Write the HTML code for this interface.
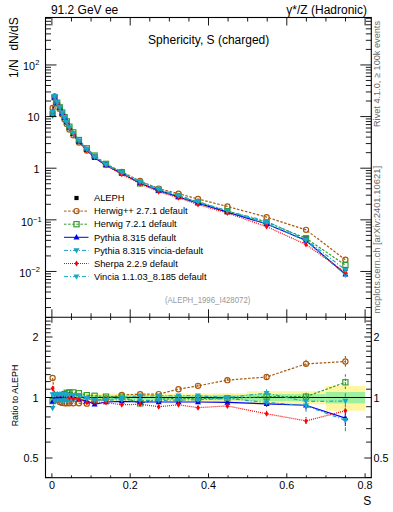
<!DOCTYPE html><html><head><meta charset="utf-8"><style>html,body{margin:0;padding:0;background:#fff;width:393px;height:512px;overflow:hidden}svg{display:block}text{font-family:"Liberation Sans", sans-serif}</style></head><body>
<svg width="393" height="512" viewBox="0 0 393 512">
<rect width="393" height="512" fill="#fff"/>
<rect x="51.90" y="393.66" width="1.70" height="7.86" fill="#fff59d"/>
<rect x="53.60" y="393.66" width="2.30" height="7.86" fill="#fff59d"/>
<rect x="55.90" y="393.66" width="2.60" height="7.86" fill="#fff59d"/>
<rect x="58.50" y="393.66" width="2.50" height="7.86" fill="#fff59d"/>
<rect x="61.00" y="393.66" width="2.40" height="7.86" fill="#fff59d"/>
<rect x="63.40" y="393.66" width="2.30" height="7.86" fill="#fff59d"/>
<rect x="65.70" y="393.66" width="2.40" height="7.86" fill="#fff59d"/>
<rect x="68.10" y="393.66" width="3.25" height="7.86" fill="#fff59d"/>
<rect x="71.35" y="393.66" width="4.75" height="7.86" fill="#fff59d"/>
<rect x="76.10" y="393.66" width="6.75" height="7.86" fill="#fff59d"/>
<rect x="82.85" y="393.66" width="7.85" height="7.86" fill="#fff59d"/>
<rect x="90.70" y="393.66" width="9.60" height="7.86" fill="#fff59d"/>
<rect x="100.30" y="393.66" width="13.60" height="7.86" fill="#fff59d"/>
<rect x="113.90" y="393.66" width="17.05" height="7.86" fill="#fff59d"/>
<rect x="130.95" y="393.66" width="18.45" height="7.86" fill="#fff59d"/>
<rect x="149.40" y="393.66" width="19.20" height="7.86" fill="#fff59d"/>
<rect x="168.60" y="393.66" width="19.65" height="7.86" fill="#fff59d"/>
<rect x="188.25" y="393.66" width="24.45" height="7.86" fill="#fff59d"/>
<rect x="212.70" y="393.24" width="34.30" height="8.74" fill="#fff59d"/>
<rect x="247.00" y="391.19" width="39.30" height="13.12" fill="#fff59d"/>
<rect x="286.30" y="391.19" width="39.40" height="13.12" fill="#fff59d"/>
<rect x="325.70" y="386.06" width="39.40" height="24.60" fill="#fff59d"/>
<rect x="51.90" y="395.34" width="1.70" height="4.37" fill="#9ef09e"/>
<rect x="53.60" y="395.34" width="2.30" height="4.37" fill="#9ef09e"/>
<rect x="55.90" y="395.34" width="2.60" height="4.37" fill="#9ef09e"/>
<rect x="58.50" y="395.34" width="2.50" height="4.37" fill="#9ef09e"/>
<rect x="61.00" y="395.34" width="2.40" height="4.37" fill="#9ef09e"/>
<rect x="63.40" y="395.34" width="2.30" height="4.37" fill="#9ef09e"/>
<rect x="65.70" y="395.34" width="2.40" height="4.37" fill="#9ef09e"/>
<rect x="68.10" y="395.34" width="3.25" height="4.37" fill="#9ef09e"/>
<rect x="71.35" y="395.34" width="4.75" height="4.37" fill="#9ef09e"/>
<rect x="76.10" y="395.34" width="6.75" height="4.37" fill="#9ef09e"/>
<rect x="82.85" y="395.34" width="7.85" height="4.37" fill="#9ef09e"/>
<rect x="90.70" y="395.34" width="9.60" height="4.37" fill="#9ef09e"/>
<rect x="100.30" y="395.34" width="13.60" height="4.37" fill="#9ef09e"/>
<rect x="113.90" y="395.34" width="17.05" height="4.37" fill="#9ef09e"/>
<rect x="130.95" y="395.34" width="18.45" height="4.37" fill="#9ef09e"/>
<rect x="149.40" y="395.34" width="19.20" height="4.37" fill="#9ef09e"/>
<rect x="168.60" y="395.34" width="19.65" height="4.37" fill="#9ef09e"/>
<rect x="188.25" y="395.34" width="24.45" height="4.37" fill="#9ef09e"/>
<rect x="212.70" y="394.92" width="34.30" height="5.24" fill="#9ef09e"/>
<rect x="247.00" y="394.08" width="39.30" height="6.99" fill="#9ef09e"/>
<rect x="286.30" y="394.08" width="39.40" height="6.99" fill="#9ef09e"/>
<rect x="325.70" y="392.00" width="39.40" height="11.36" fill="#9ef09e"/>
<line x1="45.5" y1="397.50" x2="371.3" y2="397.50" stroke="#000" stroke-width="1.1"/>
<defs><clipPath id="cu"><rect x="45.5" y="17.5" width="325.8" height="299.8"/></clipPath><clipPath id="cr"><rect x="45.5" y="317.3" width="325.8" height="160.39999999999998"/></clipPath></defs>
<g clip-path="url(#cu)">
<rect x="50.50" y="110.90" width="4.2" height="4.2" fill="#000"/>
<rect x="52.50" y="94.90" width="4.2" height="4.2" fill="#000"/>
<rect x="55.10" y="100.70" width="4.2" height="4.2" fill="#000"/>
<rect x="57.70" y="105.70" width="4.2" height="4.2" fill="#000"/>
<rect x="60.10" y="111.10" width="4.2" height="4.2" fill="#000"/>
<rect x="62.50" y="115.90" width="4.2" height="4.2" fill="#000"/>
<rect x="64.70" y="120.50" width="4.2" height="4.2" fill="#000"/>
<rect x="67.30" y="125.90" width="4.2" height="4.2" fill="#000"/>
<rect x="71.20" y="131.60" width="4.2" height="4.2" fill="#000"/>
<rect x="76.80" y="139.00" width="4.2" height="4.2" fill="#000"/>
<rect x="84.70" y="146.80" width="4.2" height="4.2" fill="#000"/>
<rect x="92.50" y="153.90" width="4.2" height="4.2" fill="#000"/>
<rect x="103.90" y="162.00" width="4.2" height="4.2" fill="#000"/>
<rect x="119.70" y="170.40" width="4.2" height="4.2" fill="#000"/>
<rect x="138.00" y="179.80" width="4.2" height="4.2" fill="#000"/>
<rect x="156.60" y="187.40" width="4.2" height="4.2" fill="#000"/>
<rect x="176.40" y="193.70" width="4.2" height="4.2" fill="#000"/>
<rect x="195.90" y="199.90" width="4.2" height="4.2" fill="#000"/>
<rect x="225.30" y="208.80" width="4.2" height="4.2" fill="#000"/>
<rect x="264.50" y="220.30" width="4.2" height="4.2" fill="#000"/>
<rect x="303.90" y="236.40" width="4.2" height="4.2" fill="#000"/>
<rect x="343.30" y="266.90" width="4.2" height="4.2" fill="#000"/>
<path d="M52.60,108.00 L54.60,96.56 L57.20,103.48 L59.80,108.95 L62.20,114.59 L64.60,119.51 L66.80,124.11 L69.40,129.51 L73.30,135.21 L78.90,142.56 L86.80,150.48 L94.60,156.92 L106.00,164.33 L121.80,171.84 L140.10,181.06 L158.70,188.62 L178.50,193.66 L198.00,199.00 L227.40,206.44 L266.60,217.13 L306.00,229.86 L345.40,259.76" fill="none" stroke="#a8580f" stroke-width="1.2" stroke-dasharray="2.5,1.6"/>
<circle cx="52.60" cy="108.00" r="2.6" fill="none" stroke="#a8580f" stroke-width="1.2"/>
<circle cx="54.60" cy="96.56" r="2.6" fill="none" stroke="#a8580f" stroke-width="1.2"/>
<circle cx="57.20" cy="103.48" r="2.6" fill="none" stroke="#a8580f" stroke-width="1.2"/>
<circle cx="59.80" cy="108.95" r="2.6" fill="none" stroke="#a8580f" stroke-width="1.2"/>
<circle cx="62.20" cy="114.59" r="2.6" fill="none" stroke="#a8580f" stroke-width="1.2"/>
<circle cx="64.60" cy="119.51" r="2.6" fill="none" stroke="#a8580f" stroke-width="1.2"/>
<circle cx="66.80" cy="124.11" r="2.6" fill="none" stroke="#a8580f" stroke-width="1.2"/>
<circle cx="69.40" cy="129.51" r="2.6" fill="none" stroke="#a8580f" stroke-width="1.2"/>
<circle cx="73.30" cy="135.21" r="2.6" fill="none" stroke="#a8580f" stroke-width="1.2"/>
<circle cx="78.90" cy="142.56" r="2.6" fill="none" stroke="#a8580f" stroke-width="1.2"/>
<circle cx="86.80" cy="150.48" r="2.6" fill="none" stroke="#a8580f" stroke-width="1.2"/>
<circle cx="94.60" cy="156.92" r="2.6" fill="none" stroke="#a8580f" stroke-width="1.2"/>
<circle cx="106.00" cy="164.33" r="2.6" fill="none" stroke="#a8580f" stroke-width="1.2"/>
<circle cx="121.80" cy="171.84" r="2.6" fill="none" stroke="#a8580f" stroke-width="1.2"/>
<circle cx="140.10" cy="181.06" r="2.6" fill="none" stroke="#a8580f" stroke-width="1.2"/>
<circle cx="158.70" cy="188.62" r="2.6" fill="none" stroke="#a8580f" stroke-width="1.2"/>
<circle cx="178.50" cy="193.66" r="2.6" fill="none" stroke="#a8580f" stroke-width="1.2"/>
<circle cx="198.00" cy="199.00" r="2.6" fill="none" stroke="#a8580f" stroke-width="1.2"/>
<circle cx="227.40" cy="206.44" r="2.6" fill="none" stroke="#a8580f" stroke-width="1.2"/>
<circle cx="266.60" cy="217.13" r="2.6" fill="none" stroke="#a8580f" stroke-width="1.2"/>
<circle cx="306.00" cy="229.86" r="2.6" fill="none" stroke="#a8580f" stroke-width="1.2"/>
<circle cx="345.40" cy="259.76" r="2.6" fill="none" stroke="#a8580f" stroke-width="1.2"/>
<path d="M52.60,113.92 L54.60,97.23 L57.20,102.80 L59.80,107.36 L62.20,112.54 L64.60,117.12 L66.80,121.40 L69.40,126.69 L73.30,132.39 L78.90,140.01 L86.80,148.30 L94.60,155.56 L106.00,163.88 L121.80,172.28 L140.10,183.41 L158.70,189.95 L178.50,196.03 L198.00,202.23 L227.40,211.13 L266.60,222.18 L306.00,238.28 L345.40,265.10" fill="none" stroke="#339a2a" stroke-width="1.2" stroke-dasharray="2.5,1.6"/>
<rect x="50.00" y="111.32" width="5.2" height="5.2" fill="none" stroke="#339a2a" stroke-width="1.15"/>
<rect x="52.00" y="94.63" width="5.2" height="5.2" fill="none" stroke="#339a2a" stroke-width="1.15"/>
<rect x="54.60" y="100.20" width="5.2" height="5.2" fill="none" stroke="#339a2a" stroke-width="1.15"/>
<rect x="57.20" y="104.76" width="5.2" height="5.2" fill="none" stroke="#339a2a" stroke-width="1.15"/>
<rect x="59.60" y="109.94" width="5.2" height="5.2" fill="none" stroke="#339a2a" stroke-width="1.15"/>
<rect x="62.00" y="114.52" width="5.2" height="5.2" fill="none" stroke="#339a2a" stroke-width="1.15"/>
<rect x="64.20" y="118.80" width="5.2" height="5.2" fill="none" stroke="#339a2a" stroke-width="1.15"/>
<rect x="66.80" y="124.09" width="5.2" height="5.2" fill="none" stroke="#339a2a" stroke-width="1.15"/>
<rect x="70.70" y="129.79" width="5.2" height="5.2" fill="none" stroke="#339a2a" stroke-width="1.15"/>
<rect x="76.30" y="137.41" width="5.2" height="5.2" fill="none" stroke="#339a2a" stroke-width="1.15"/>
<rect x="84.20" y="145.70" width="5.2" height="5.2" fill="none" stroke="#339a2a" stroke-width="1.15"/>
<rect x="92.00" y="152.96" width="5.2" height="5.2" fill="none" stroke="#339a2a" stroke-width="1.15"/>
<rect x="103.40" y="161.28" width="5.2" height="5.2" fill="none" stroke="#339a2a" stroke-width="1.15"/>
<rect x="119.20" y="169.68" width="5.2" height="5.2" fill="none" stroke="#339a2a" stroke-width="1.15"/>
<rect x="137.50" y="180.81" width="5.2" height="5.2" fill="none" stroke="#339a2a" stroke-width="1.15"/>
<rect x="156.10" y="187.35" width="5.2" height="5.2" fill="none" stroke="#339a2a" stroke-width="1.15"/>
<rect x="175.90" y="193.43" width="5.2" height="5.2" fill="none" stroke="#339a2a" stroke-width="1.15"/>
<rect x="195.40" y="199.63" width="5.2" height="5.2" fill="none" stroke="#339a2a" stroke-width="1.15"/>
<rect x="224.80" y="208.53" width="5.2" height="5.2" fill="none" stroke="#339a2a" stroke-width="1.15"/>
<rect x="264.00" y="219.58" width="5.2" height="5.2" fill="none" stroke="#339a2a" stroke-width="1.15"/>
<rect x="303.40" y="235.68" width="5.2" height="5.2" fill="none" stroke="#339a2a" stroke-width="1.15"/>
<rect x="342.80" y="262.50" width="5.2" height="5.2" fill="none" stroke="#339a2a" stroke-width="1.15"/>
<path d="M52.60,113.99 L54.60,97.45 L57.20,103.03 L59.80,107.80 L62.20,113.20 L64.60,117.78 L66.80,122.16 L69.40,127.34 L73.30,133.70 L78.90,141.55 L86.80,149.82 L94.60,157.77 L106.00,165.25 L121.80,173.49 L140.10,183.05 L158.70,190.65 L178.50,196.95 L198.00,203.15 L227.40,212.17 L266.60,224.03 L306.00,240.49 L345.40,274.29" fill="none" stroke="#0000ee" stroke-width="1.2"/>
<path d="M52.60,110.79 L55.60,116.19 L49.60,116.19Z" fill="#0000ee"/>
<path d="M54.60,94.25 L57.60,99.65 L51.60,99.65Z" fill="#0000ee"/>
<path d="M57.20,99.83 L60.20,105.23 L54.20,105.23Z" fill="#0000ee"/>
<path d="M59.80,104.60 L62.80,110.00 L56.80,110.00Z" fill="#0000ee"/>
<path d="M62.20,110.00 L65.20,115.40 L59.20,115.40Z" fill="#0000ee"/>
<path d="M64.60,114.58 L67.60,119.98 L61.60,119.98Z" fill="#0000ee"/>
<path d="M66.80,118.96 L69.80,124.36 L63.80,124.36Z" fill="#0000ee"/>
<path d="M69.40,124.14 L72.40,129.54 L66.40,129.54Z" fill="#0000ee"/>
<path d="M73.30,130.50 L76.30,135.90 L70.30,135.90Z" fill="#0000ee"/>
<path d="M78.90,138.35 L81.90,143.75 L75.90,143.75Z" fill="#0000ee"/>
<path d="M86.80,146.62 L89.80,152.02 L83.80,152.02Z" fill="#0000ee"/>
<path d="M94.60,154.57 L97.60,159.97 L91.60,159.97Z" fill="#0000ee"/>
<path d="M106.00,162.05 L109.00,167.45 L103.00,167.45Z" fill="#0000ee"/>
<path d="M121.80,170.29 L124.80,175.69 L118.80,175.69Z" fill="#0000ee"/>
<path d="M140.10,179.85 L143.10,185.25 L137.10,185.25Z" fill="#0000ee"/>
<path d="M158.70,187.45 L161.70,192.85 L155.70,192.85Z" fill="#0000ee"/>
<path d="M178.50,193.75 L181.50,199.15 L175.50,199.15Z" fill="#0000ee"/>
<path d="M198.00,199.95 L201.00,205.35 L195.00,205.35Z" fill="#0000ee"/>
<path d="M227.40,208.97 L230.40,214.37 L224.40,214.37Z" fill="#0000ee"/>
<path d="M266.60,220.83 L269.60,226.23 L263.60,226.23Z" fill="#0000ee"/>
<path d="M306.00,237.29 L309.00,242.69 L303.00,242.69Z" fill="#0000ee"/>
<path d="M345.40,271.09 L348.40,276.49 L342.40,276.49Z" fill="#0000ee"/>
<path d="M52.60,115.74 L54.60,97.92 L57.20,103.60 L59.80,108.60 L62.20,114.00 L64.60,118.68 L66.80,123.28 L69.40,128.68 L73.30,134.38 L78.90,141.55 L86.80,149.13 L94.60,156.68 L106.00,164.78 L121.80,173.07 L140.10,182.63 L158.70,190.23 L178.50,196.48 L198.00,202.57 L227.40,211.13 L266.60,223.67 L306.00,240.61 L345.40,274.86" fill="none" stroke="#1a9fc0" stroke-width="1.2" stroke-dasharray="4,2,1,2"/>
<path d="M52.60,118.94 L55.60,113.54 L49.60,113.54Z" fill="#1a9fc0"/>
<path d="M54.60,101.12 L57.60,95.72 L51.60,95.72Z" fill="#1a9fc0"/>
<path d="M57.20,106.80 L60.20,101.40 L54.20,101.40Z" fill="#1a9fc0"/>
<path d="M59.80,111.80 L62.80,106.40 L56.80,106.40Z" fill="#1a9fc0"/>
<path d="M62.20,117.20 L65.20,111.80 L59.20,111.80Z" fill="#1a9fc0"/>
<path d="M64.60,121.88 L67.60,116.48 L61.60,116.48Z" fill="#1a9fc0"/>
<path d="M66.80,126.48 L69.80,121.08 L63.80,121.08Z" fill="#1a9fc0"/>
<path d="M69.40,131.88 L72.40,126.48 L66.40,126.48Z" fill="#1a9fc0"/>
<path d="M73.30,137.58 L76.30,132.18 L70.30,132.18Z" fill="#1a9fc0"/>
<path d="M78.90,144.75 L81.90,139.35 L75.90,139.35Z" fill="#1a9fc0"/>
<path d="M86.80,152.33 L89.80,146.93 L83.80,146.93Z" fill="#1a9fc0"/>
<path d="M94.60,159.88 L97.60,154.48 L91.60,154.48Z" fill="#1a9fc0"/>
<path d="M106.00,167.98 L109.00,162.58 L103.00,162.58Z" fill="#1a9fc0"/>
<path d="M121.80,176.27 L124.80,170.87 L118.80,170.87Z" fill="#1a9fc0"/>
<path d="M140.10,185.83 L143.10,180.43 L137.10,180.43Z" fill="#1a9fc0"/>
<path d="M158.70,193.43 L161.70,188.03 L155.70,188.03Z" fill="#1a9fc0"/>
<path d="M178.50,199.68 L181.50,194.28 L175.50,194.28Z" fill="#1a9fc0"/>
<path d="M198.00,205.77 L201.00,200.37 L195.00,200.37Z" fill="#1a9fc0"/>
<path d="M227.40,214.33 L230.40,208.93 L224.40,208.93Z" fill="#1a9fc0"/>
<path d="M266.60,226.87 L269.60,221.47 L263.60,221.47Z" fill="#1a9fc0"/>
<path d="M306.00,243.81 L309.00,238.41 L303.00,238.41Z" fill="#1a9fc0"/>
<path d="M345.40,278.06 L348.40,272.66 L342.40,272.66Z" fill="#1a9fc0"/>
<path d="M52.60,110.66 L54.60,96.01 L57.20,101.92 L59.80,107.03 L62.20,112.43 L64.60,117.34 L66.80,122.16 L69.40,128.00 L73.30,133.93 L78.90,141.48 L86.80,150.19 L94.60,157.15 L106.00,165.39 L121.80,174.37 L140.10,183.65 L158.70,191.86 L178.50,197.67 L198.00,204.61 L227.40,213.06 L266.60,226.58 L306.00,244.51 L345.40,272.38" fill="none" stroke="#ff0000" stroke-width="1.2" stroke-dasharray="1,1"/>
<path d="M52.60,107.66 L54.50,110.66 L52.60,113.66 L50.70,110.66Z" fill="#ff0000"/>
<path d="M54.60,93.01 L56.50,96.01 L54.60,99.01 L52.70,96.01Z" fill="#ff0000"/>
<path d="M57.20,98.92 L59.10,101.92 L57.20,104.92 L55.30,101.92Z" fill="#ff0000"/>
<path d="M59.80,104.03 L61.70,107.03 L59.80,110.03 L57.90,107.03Z" fill="#ff0000"/>
<path d="M62.20,109.43 L64.10,112.43 L62.20,115.43 L60.30,112.43Z" fill="#ff0000"/>
<path d="M64.60,114.34 L66.50,117.34 L64.60,120.34 L62.70,117.34Z" fill="#ff0000"/>
<path d="M66.80,119.16 L68.70,122.16 L66.80,125.16 L64.90,122.16Z" fill="#ff0000"/>
<path d="M69.40,125.00 L71.30,128.00 L69.40,131.00 L67.50,128.00Z" fill="#ff0000"/>
<path d="M73.30,130.93 L75.20,133.93 L73.30,136.93 L71.40,133.93Z" fill="#ff0000"/>
<path d="M78.90,138.48 L80.80,141.48 L78.90,144.48 L77.00,141.48Z" fill="#ff0000"/>
<path d="M86.80,147.19 L88.70,150.19 L86.80,153.19 L84.90,150.19Z" fill="#ff0000"/>
<path d="M94.60,154.15 L96.50,157.15 L94.60,160.15 L92.70,157.15Z" fill="#ff0000"/>
<path d="M106.00,162.39 L107.90,165.39 L106.00,168.39 L104.10,165.39Z" fill="#ff0000"/>
<path d="M121.80,171.37 L123.70,174.37 L121.80,177.37 L119.90,174.37Z" fill="#ff0000"/>
<path d="M140.10,180.65 L142.00,183.65 L140.10,186.65 L138.20,183.65Z" fill="#ff0000"/>
<path d="M158.70,188.86 L160.60,191.86 L158.70,194.86 L156.80,191.86Z" fill="#ff0000"/>
<path d="M178.50,194.67 L180.40,197.67 L178.50,200.67 L176.60,197.67Z" fill="#ff0000"/>
<path d="M198.00,201.61 L199.90,204.61 L198.00,207.61 L196.10,204.61Z" fill="#ff0000"/>
<path d="M227.40,210.06 L229.30,213.06 L227.40,216.06 L225.50,213.06Z" fill="#ff0000"/>
<path d="M266.60,223.58 L268.50,226.58 L266.60,229.58 L264.70,226.58Z" fill="#ff0000"/>
<path d="M306.00,241.51 L307.90,244.51 L306.00,247.51 L304.10,244.51Z" fill="#ff0000"/>
<path d="M345.40,269.38 L347.30,272.38 L345.40,275.38 L343.50,272.38Z" fill="#ff0000"/>
<path d="M52.60,112.23 L54.60,96.12 L57.20,101.92 L59.80,106.92 L62.20,112.43 L64.60,117.23 L66.80,121.94 L69.40,127.34 L73.30,133.10 L78.90,140.50 L86.80,149.13 L94.60,156.68 L106.00,164.69 L121.80,172.50 L140.10,181.46 L158.70,189.06 L178.50,195.36 L198.00,201.56 L227.40,210.90 L266.60,221.31 L306.00,239.53 L345.40,269.92" fill="none" stroke="#1aa8c8" stroke-width="1.2" stroke-dasharray="4,2,1,2"/>
<path d="M52.60,115.43 L55.60,110.03 L49.60,110.03Z" fill="#1aa8c8"/>
<path d="M54.60,99.32 L57.60,93.92 L51.60,93.92Z" fill="#1aa8c8"/>
<path d="M57.20,105.12 L60.20,99.72 L54.20,99.72Z" fill="#1aa8c8"/>
<path d="M59.80,110.12 L62.80,104.72 L56.80,104.72Z" fill="#1aa8c8"/>
<path d="M62.20,115.63 L65.20,110.23 L59.20,110.23Z" fill="#1aa8c8"/>
<path d="M64.60,120.43 L67.60,115.03 L61.60,115.03Z" fill="#1aa8c8"/>
<path d="M66.80,125.14 L69.80,119.74 L63.80,119.74Z" fill="#1aa8c8"/>
<path d="M69.40,130.54 L72.40,125.14 L66.40,125.14Z" fill="#1aa8c8"/>
<path d="M73.30,136.30 L76.30,130.90 L70.30,130.90Z" fill="#1aa8c8"/>
<path d="M78.90,143.70 L81.90,138.30 L75.90,138.30Z" fill="#1aa8c8"/>
<path d="M86.80,152.33 L89.80,146.93 L83.80,146.93Z" fill="#1aa8c8"/>
<path d="M94.60,159.88 L97.60,154.48 L91.60,154.48Z" fill="#1aa8c8"/>
<path d="M106.00,167.89 L109.00,162.49 L103.00,162.49Z" fill="#1aa8c8"/>
<path d="M121.80,175.70 L124.80,170.30 L118.80,170.30Z" fill="#1aa8c8"/>
<path d="M140.10,184.66 L143.10,179.26 L137.10,179.26Z" fill="#1aa8c8"/>
<path d="M158.70,192.26 L161.70,186.86 L155.70,186.86Z" fill="#1aa8c8"/>
<path d="M178.50,198.56 L181.50,193.16 L175.50,193.16Z" fill="#1aa8c8"/>
<path d="M198.00,204.76 L201.00,199.36 L195.00,199.36Z" fill="#1aa8c8"/>
<path d="M227.40,214.10 L230.40,208.70 L224.40,208.70Z" fill="#1aa8c8"/>
<path d="M266.60,224.51 L269.60,219.11 L263.60,219.11Z" fill="#1aa8c8"/>
<path d="M306.00,242.73 L309.00,237.33 L303.00,237.33Z" fill="#1aa8c8"/>
<path d="M345.40,273.12 L348.40,267.72 L342.40,267.72Z" fill="#1aa8c8"/>
</g>
<g clip-path="url(#cr)">
<path d="M52.60,378.02 L54.60,395.77 L57.20,400.16 L59.80,401.98 L62.20,402.90 L64.60,403.37 L66.80,403.37 L69.40,403.37 L73.30,403.37 L78.90,403.18 L86.80,403.65 L94.60,401.06 L106.00,398.38 L121.80,394.92 L140.10,394.24 L158.70,394.08 L178.50,389.18 L198.00,385.83 L227.40,380.14 L266.60,376.98 L306.00,363.87 L345.40,361.53" fill="none" stroke="#a8580f" stroke-width="1.2" stroke-dasharray="2.5,1.6"/>
<circle cx="52.60" cy="378.02" r="2.6" fill="none" stroke="#a8580f" stroke-width="1.2"/>
<circle cx="54.60" cy="395.77" r="2.6" fill="none" stroke="#a8580f" stroke-width="1.2"/>
<circle cx="57.20" cy="400.16" r="2.6" fill="none" stroke="#a8580f" stroke-width="1.2"/>
<circle cx="59.80" cy="401.98" r="2.6" fill="none" stroke="#a8580f" stroke-width="1.2"/>
<circle cx="62.20" cy="402.90" r="2.6" fill="none" stroke="#a8580f" stroke-width="1.2"/>
<circle cx="64.60" cy="403.37" r="2.6" fill="none" stroke="#a8580f" stroke-width="1.2"/>
<circle cx="66.80" cy="403.37" r="2.6" fill="none" stroke="#a8580f" stroke-width="1.2"/>
<circle cx="69.40" cy="403.37" r="2.6" fill="none" stroke="#a8580f" stroke-width="1.2"/>
<circle cx="73.30" cy="403.37" r="2.6" fill="none" stroke="#a8580f" stroke-width="1.2"/>
<circle cx="78.90" cy="403.18" r="2.6" fill="none" stroke="#a8580f" stroke-width="1.2"/>
<circle cx="86.80" cy="403.65" r="2.6" fill="none" stroke="#a8580f" stroke-width="1.2"/>
<circle cx="94.60" cy="401.06" r="2.6" fill="none" stroke="#a8580f" stroke-width="1.2"/>
<circle cx="106.00" cy="398.38" r="2.6" fill="none" stroke="#a8580f" stroke-width="1.2"/>
<circle cx="121.80" cy="394.92" r="2.6" fill="none" stroke="#a8580f" stroke-width="1.2"/>
<circle cx="140.10" cy="394.24" r="2.6" fill="none" stroke="#a8580f" stroke-width="1.2"/>
<circle cx="158.70" cy="394.08" r="2.6" fill="none" stroke="#a8580f" stroke-width="1.2"/>
<circle cx="178.50" cy="389.18" r="2.6" fill="none" stroke="#a8580f" stroke-width="1.2"/>
<line x1="198.00" y1="384.33" x2="198.00" y2="387.33" stroke="#a8580f" stroke-width="1.1" stroke-dasharray="2.5,1.6"/>
<circle cx="198.00" cy="385.83" r="2.6" fill="none" stroke="#a8580f" stroke-width="1.2"/>
<line x1="227.40" y1="378.14" x2="227.40" y2="382.14" stroke="#a8580f" stroke-width="1.1" stroke-dasharray="2.5,1.6"/>
<circle cx="227.40" cy="380.14" r="2.6" fill="none" stroke="#a8580f" stroke-width="1.2"/>
<line x1="266.60" y1="373.98" x2="266.60" y2="379.98" stroke="#a8580f" stroke-width="1.1" stroke-dasharray="2.5,1.6"/>
<circle cx="266.60" cy="376.98" r="2.6" fill="none" stroke="#a8580f" stroke-width="1.2"/>
<line x1="306.00" y1="359.87" x2="306.00" y2="367.87" stroke="#a8580f" stroke-width="1.1" stroke-dasharray="2.5,1.6"/>
<circle cx="306.00" cy="363.87" r="2.6" fill="none" stroke="#a8580f" stroke-width="1.2"/>
<line x1="345.40" y1="356.03" x2="345.40" y2="367.03" stroke="#a8580f" stroke-width="1.1" stroke-dasharray="2.5,1.6"/>
<circle cx="345.40" cy="361.53" r="2.6" fill="none" stroke="#a8580f" stroke-width="1.2"/>
<path d="M52.60,401.06 L54.60,398.38 L57.20,397.50 L59.80,395.77 L62.20,394.92 L64.60,394.08 L66.80,392.83 L69.40,392.41 L73.30,392.41 L78.90,393.24 L86.80,395.17 L94.60,395.77 L106.00,396.63 L121.80,396.63 L140.10,403.37 L158.70,399.26 L178.50,398.38 L198.00,398.38 L227.40,398.38 L266.60,396.63 L306.00,396.63 L345.40,382.32" fill="none" stroke="#339a2a" stroke-width="1.2" stroke-dasharray="2.5,1.6"/>
<rect x="50.00" y="398.46" width="5.2" height="5.2" fill="none" stroke="#339a2a" stroke-width="1.15"/>
<rect x="52.00" y="395.78" width="5.2" height="5.2" fill="none" stroke="#339a2a" stroke-width="1.15"/>
<rect x="54.60" y="394.90" width="5.2" height="5.2" fill="none" stroke="#339a2a" stroke-width="1.15"/>
<rect x="57.20" y="393.17" width="5.2" height="5.2" fill="none" stroke="#339a2a" stroke-width="1.15"/>
<rect x="59.60" y="392.32" width="5.2" height="5.2" fill="none" stroke="#339a2a" stroke-width="1.15"/>
<rect x="62.00" y="391.48" width="5.2" height="5.2" fill="none" stroke="#339a2a" stroke-width="1.15"/>
<rect x="64.20" y="390.23" width="5.2" height="5.2" fill="none" stroke="#339a2a" stroke-width="1.15"/>
<rect x="66.80" y="389.81" width="5.2" height="5.2" fill="none" stroke="#339a2a" stroke-width="1.15"/>
<rect x="70.70" y="389.81" width="5.2" height="5.2" fill="none" stroke="#339a2a" stroke-width="1.15"/>
<rect x="76.30" y="390.64" width="5.2" height="5.2" fill="none" stroke="#339a2a" stroke-width="1.15"/>
<rect x="84.20" y="392.57" width="5.2" height="5.2" fill="none" stroke="#339a2a" stroke-width="1.15"/>
<rect x="92.00" y="393.17" width="5.2" height="5.2" fill="none" stroke="#339a2a" stroke-width="1.15"/>
<rect x="103.40" y="394.03" width="5.2" height="5.2" fill="none" stroke="#339a2a" stroke-width="1.15"/>
<rect x="119.20" y="394.03" width="5.2" height="5.2" fill="none" stroke="#339a2a" stroke-width="1.15"/>
<rect x="137.50" y="400.77" width="5.2" height="5.2" fill="none" stroke="#339a2a" stroke-width="1.15"/>
<rect x="156.10" y="396.66" width="5.2" height="5.2" fill="none" stroke="#339a2a" stroke-width="1.15"/>
<rect x="175.90" y="395.78" width="5.2" height="5.2" fill="none" stroke="#339a2a" stroke-width="1.15"/>
<line x1="198.00" y1="396.88" x2="198.00" y2="399.88" stroke="#339a2a" stroke-width="1.1" stroke-dasharray="2.5,1.6"/>
<rect x="195.40" y="395.78" width="5.2" height="5.2" fill="none" stroke="#339a2a" stroke-width="1.15"/>
<line x1="227.40" y1="396.38" x2="227.40" y2="400.38" stroke="#339a2a" stroke-width="1.1" stroke-dasharray="2.5,1.6"/>
<rect x="224.80" y="395.78" width="5.2" height="5.2" fill="none" stroke="#339a2a" stroke-width="1.15"/>
<line x1="266.60" y1="393.63" x2="266.60" y2="399.63" stroke="#339a2a" stroke-width="1.1" stroke-dasharray="2.5,1.6"/>
<rect x="264.00" y="394.03" width="5.2" height="5.2" fill="none" stroke="#339a2a" stroke-width="1.15"/>
<line x1="306.00" y1="392.63" x2="306.00" y2="400.63" stroke="#339a2a" stroke-width="1.1" stroke-dasharray="2.5,1.6"/>
<rect x="303.40" y="394.03" width="5.2" height="5.2" fill="none" stroke="#339a2a" stroke-width="1.15"/>
<line x1="345.40" y1="374.32" x2="345.40" y2="390.32" stroke="#339a2a" stroke-width="1.1" stroke-dasharray="2.5,1.6"/>
<rect x="342.80" y="379.72" width="5.2" height="5.2" fill="none" stroke="#339a2a" stroke-width="1.15"/>
<path d="M52.60,401.34 L54.60,399.26 L57.20,398.38 L59.80,397.50 L62.20,397.50 L64.60,396.63 L66.80,395.77 L69.40,394.92 L73.30,397.50 L78.90,399.26 L86.80,401.06 L94.60,404.40 L106.00,401.98 L121.80,401.34 L140.10,401.98 L158.70,401.98 L178.50,401.98 L198.00,401.98 L227.40,402.44 L266.60,403.83 L306.00,405.25 L345.40,418.07" fill="none" stroke="#0000ee" stroke-width="1.2"/>
<path d="M52.60,398.14 L55.60,403.54 L49.60,403.54Z" fill="#0000ee"/>
<path d="M54.60,396.06 L57.60,401.46 L51.60,401.46Z" fill="#0000ee"/>
<path d="M57.20,395.18 L60.20,400.58 L54.20,400.58Z" fill="#0000ee"/>
<path d="M59.80,394.30 L62.80,399.70 L56.80,399.70Z" fill="#0000ee"/>
<path d="M62.20,394.30 L65.20,399.70 L59.20,399.70Z" fill="#0000ee"/>
<path d="M64.60,393.43 L67.60,398.83 L61.60,398.83Z" fill="#0000ee"/>
<path d="M66.80,392.57 L69.80,397.97 L63.80,397.97Z" fill="#0000ee"/>
<path d="M69.40,391.72 L72.40,397.12 L66.40,397.12Z" fill="#0000ee"/>
<path d="M73.30,394.30 L76.30,399.70 L70.30,399.70Z" fill="#0000ee"/>
<path d="M78.90,396.06 L81.90,401.46 L75.90,401.46Z" fill="#0000ee"/>
<path d="M86.80,397.86 L89.80,403.26 L83.80,403.26Z" fill="#0000ee"/>
<path d="M94.60,401.20 L97.60,406.60 L91.60,406.60Z" fill="#0000ee"/>
<path d="M106.00,398.78 L109.00,404.18 L103.00,404.18Z" fill="#0000ee"/>
<path d="M121.80,398.14 L124.80,403.54 L118.80,403.54Z" fill="#0000ee"/>
<path d="M140.10,398.78 L143.10,404.18 L137.10,404.18Z" fill="#0000ee"/>
<path d="M158.70,398.78 L161.70,404.18 L155.70,404.18Z" fill="#0000ee"/>
<path d="M178.50,398.78 L181.50,404.18 L175.50,404.18Z" fill="#0000ee"/>
<line x1="198.00" y1="400.48" x2="198.00" y2="403.48" stroke="#0000ee" stroke-width="1.1"/>
<path d="M198.00,398.78 L201.00,404.18 L195.00,404.18Z" fill="#0000ee"/>
<line x1="227.40" y1="400.44" x2="227.40" y2="404.44" stroke="#0000ee" stroke-width="1.1"/>
<path d="M227.40,399.24 L230.40,404.64 L224.40,404.64Z" fill="#0000ee"/>
<line x1="266.60" y1="400.83" x2="266.60" y2="406.83" stroke="#0000ee" stroke-width="1.1"/>
<path d="M266.60,400.63 L269.60,406.03 L263.60,406.03Z" fill="#0000ee"/>
<line x1="306.00" y1="401.25" x2="306.00" y2="409.25" stroke="#0000ee" stroke-width="1.1"/>
<path d="M306.00,402.05 L309.00,407.45 L303.00,407.45Z" fill="#0000ee"/>
<line x1="345.40" y1="410.07" x2="345.40" y2="426.07" stroke="#0000ee" stroke-width="1.1"/>
<path d="M345.40,414.87 L348.40,420.27 L342.40,420.27Z" fill="#0000ee"/>
<path d="M52.60,408.16 L54.60,401.06 L57.20,400.61 L59.80,400.61 L62.20,400.61 L64.60,400.16 L66.80,400.16 L69.40,400.16 L73.30,400.16 L78.90,399.26 L86.80,398.38 L94.60,400.16 L106.00,400.16 L121.80,399.71 L140.10,400.34 L158.70,400.34 L178.50,400.16 L198.00,399.71 L227.40,398.38 L266.60,402.44 L306.00,405.73 L345.40,420.31" fill="none" stroke="#1a9fc0" stroke-width="1.2" stroke-dasharray="4,2,1,2"/>
<path d="M52.60,411.36 L55.60,405.96 L49.60,405.96Z" fill="#1a9fc0"/>
<path d="M54.60,404.26 L57.60,398.86 L51.60,398.86Z" fill="#1a9fc0"/>
<path d="M57.20,403.81 L60.20,398.41 L54.20,398.41Z" fill="#1a9fc0"/>
<path d="M59.80,403.81 L62.80,398.41 L56.80,398.41Z" fill="#1a9fc0"/>
<path d="M62.20,403.81 L65.20,398.41 L59.20,398.41Z" fill="#1a9fc0"/>
<path d="M64.60,403.36 L67.60,397.96 L61.60,397.96Z" fill="#1a9fc0"/>
<path d="M66.80,403.36 L69.80,397.96 L63.80,397.96Z" fill="#1a9fc0"/>
<path d="M69.40,403.36 L72.40,397.96 L66.40,397.96Z" fill="#1a9fc0"/>
<path d="M73.30,403.36 L76.30,397.96 L70.30,397.96Z" fill="#1a9fc0"/>
<path d="M78.90,402.46 L81.90,397.06 L75.90,397.06Z" fill="#1a9fc0"/>
<path d="M86.80,401.58 L89.80,396.18 L83.80,396.18Z" fill="#1a9fc0"/>
<path d="M94.60,403.36 L97.60,397.96 L91.60,397.96Z" fill="#1a9fc0"/>
<path d="M106.00,403.36 L109.00,397.96 L103.00,397.96Z" fill="#1a9fc0"/>
<path d="M121.80,402.91 L124.80,397.51 L118.80,397.51Z" fill="#1a9fc0"/>
<path d="M140.10,403.54 L143.10,398.14 L137.10,398.14Z" fill="#1a9fc0"/>
<path d="M158.70,403.54 L161.70,398.14 L155.70,398.14Z" fill="#1a9fc0"/>
<path d="M178.50,403.36 L181.50,397.96 L175.50,397.96Z" fill="#1a9fc0"/>
<line x1="198.00" y1="398.21" x2="198.00" y2="401.21" stroke="#1a9fc0" stroke-width="1.1" stroke-dasharray="4,2,1,2"/>
<path d="M198.00,402.91 L201.00,397.51 L195.00,397.51Z" fill="#1a9fc0"/>
<line x1="227.40" y1="396.38" x2="227.40" y2="400.38" stroke="#1a9fc0" stroke-width="1.1" stroke-dasharray="4,2,1,2"/>
<path d="M227.40,401.58 L230.40,396.18 L224.40,396.18Z" fill="#1a9fc0"/>
<line x1="266.60" y1="399.44" x2="266.60" y2="405.44" stroke="#1a9fc0" stroke-width="1.1" stroke-dasharray="4,2,1,2"/>
<path d="M266.60,405.64 L269.60,400.24 L263.60,400.24Z" fill="#1a9fc0"/>
<line x1="306.00" y1="399.73" x2="306.00" y2="411.73" stroke="#1a9fc0" stroke-width="1.1" stroke-dasharray="4,2,1,2"/>
<path d="M306.00,408.93 L309.00,403.53 L303.00,403.53Z" fill="#1a9fc0"/>
<line x1="345.40" y1="409.31" x2="345.40" y2="431.31" stroke="#1a9fc0" stroke-width="1.1" stroke-dasharray="4,2,1,2"/>
<path d="M345.40,423.51 L348.40,418.11 L342.40,418.11Z" fill="#1a9fc0"/>
<path d="M52.60,388.39 L54.60,393.66 L57.20,394.08 L59.80,394.50 L62.20,394.50 L64.60,394.92 L66.80,395.77 L69.40,397.50 L73.30,398.38 L78.90,399.00 L86.80,402.53 L94.60,401.98 L106.00,402.53 L121.80,404.78 L140.10,404.30 L158.70,406.70 L178.50,404.78 L198.00,407.67 L227.40,405.92 L266.60,413.76 L306.00,420.88 L345.40,410.66" fill="none" stroke="#ff0000" stroke-width="1.2" stroke-dasharray="1,1"/>
<path d="M52.60,385.39 L54.50,388.39 L52.60,391.39 L50.70,388.39Z" fill="#ff0000"/>
<path d="M54.60,390.66 L56.50,393.66 L54.60,396.66 L52.70,393.66Z" fill="#ff0000"/>
<path d="M57.20,391.08 L59.10,394.08 L57.20,397.08 L55.30,394.08Z" fill="#ff0000"/>
<path d="M59.80,391.50 L61.70,394.50 L59.80,397.50 L57.90,394.50Z" fill="#ff0000"/>
<path d="M62.20,391.50 L64.10,394.50 L62.20,397.50 L60.30,394.50Z" fill="#ff0000"/>
<path d="M64.60,391.92 L66.50,394.92 L64.60,397.92 L62.70,394.92Z" fill="#ff0000"/>
<path d="M66.80,392.77 L68.70,395.77 L66.80,398.77 L64.90,395.77Z" fill="#ff0000"/>
<path d="M69.40,394.50 L71.30,397.50 L69.40,400.50 L67.50,397.50Z" fill="#ff0000"/>
<path d="M73.30,395.38 L75.20,398.38 L73.30,401.38 L71.40,398.38Z" fill="#ff0000"/>
<path d="M78.90,396.00 L80.80,399.00 L78.90,402.00 L77.00,399.00Z" fill="#ff0000"/>
<path d="M86.80,399.53 L88.70,402.53 L86.80,405.53 L84.90,402.53Z" fill="#ff0000"/>
<path d="M94.60,398.98 L96.50,401.98 L94.60,404.98 L92.70,401.98Z" fill="#ff0000"/>
<path d="M106.00,399.53 L107.90,402.53 L106.00,405.53 L104.10,402.53Z" fill="#ff0000"/>
<path d="M121.80,401.78 L123.70,404.78 L121.80,407.78 L119.90,404.78Z" fill="#ff0000"/>
<path d="M140.10,401.30 L142.00,404.30 L140.10,407.30 L138.20,404.30Z" fill="#ff0000"/>
<path d="M158.70,403.70 L160.60,406.70 L158.70,409.70 L156.80,406.70Z" fill="#ff0000"/>
<path d="M178.50,401.78 L180.40,404.78 L178.50,407.78 L176.60,404.78Z" fill="#ff0000"/>
<line x1="198.00" y1="406.17" x2="198.00" y2="409.17" stroke="#ff0000" stroke-width="1.1" stroke-dasharray="1,1"/>
<path d="M198.00,404.67 L199.90,407.67 L198.00,410.67 L196.10,407.67Z" fill="#ff0000"/>
<line x1="227.40" y1="403.92" x2="227.40" y2="407.92" stroke="#ff0000" stroke-width="1.1" stroke-dasharray="1,1"/>
<path d="M227.40,402.92 L229.30,405.92 L227.40,408.92 L225.50,405.92Z" fill="#ff0000"/>
<line x1="266.60" y1="410.76" x2="266.60" y2="416.76" stroke="#ff0000" stroke-width="1.1" stroke-dasharray="1,1"/>
<path d="M266.60,410.76 L268.50,413.76 L266.60,416.76 L264.70,413.76Z" fill="#ff0000"/>
<line x1="306.00" y1="416.88" x2="306.00" y2="424.88" stroke="#ff0000" stroke-width="1.1" stroke-dasharray="1,1"/>
<path d="M306.00,417.88 L307.90,420.88 L306.00,423.88 L304.10,420.88Z" fill="#ff0000"/>
<line x1="345.40" y1="405.66" x2="345.40" y2="415.66" stroke="#ff0000" stroke-width="1.1" stroke-dasharray="1,1"/>
<path d="M345.40,407.66 L347.30,410.66 L345.40,413.66 L343.50,410.66Z" fill="#ff0000"/>
<path d="M52.60,394.50 L54.60,394.08 L57.20,394.08 L59.80,394.08 L62.20,394.50 L64.60,394.50 L66.80,394.92 L69.40,394.92 L73.30,395.17 L78.90,395.17 L86.80,398.38 L94.60,400.16 L106.00,399.80 L121.80,397.50 L140.10,395.77 L158.70,395.77 L178.50,395.77 L198.00,395.77 L227.40,397.50 L266.60,393.24 L306.00,401.52 L345.40,401.06" fill="none" stroke="#1aa8c8" stroke-width="1.2" stroke-dasharray="4,2,1,2"/>
<path d="M52.60,397.70 L55.60,392.30 L49.60,392.30Z" fill="#1aa8c8"/>
<path d="M54.60,397.28 L57.60,391.88 L51.60,391.88Z" fill="#1aa8c8"/>
<path d="M57.20,397.28 L60.20,391.88 L54.20,391.88Z" fill="#1aa8c8"/>
<path d="M59.80,397.28 L62.80,391.88 L56.80,391.88Z" fill="#1aa8c8"/>
<path d="M62.20,397.70 L65.20,392.30 L59.20,392.30Z" fill="#1aa8c8"/>
<path d="M64.60,397.70 L67.60,392.30 L61.60,392.30Z" fill="#1aa8c8"/>
<path d="M66.80,398.12 L69.80,392.72 L63.80,392.72Z" fill="#1aa8c8"/>
<path d="M69.40,398.12 L72.40,392.72 L66.40,392.72Z" fill="#1aa8c8"/>
<path d="M73.30,398.37 L76.30,392.97 L70.30,392.97Z" fill="#1aa8c8"/>
<path d="M78.90,398.37 L81.90,392.97 L75.90,392.97Z" fill="#1aa8c8"/>
<path d="M86.80,401.58 L89.80,396.18 L83.80,396.18Z" fill="#1aa8c8"/>
<path d="M94.60,403.36 L97.60,397.96 L91.60,397.96Z" fill="#1aa8c8"/>
<path d="M106.00,403.00 L109.00,397.60 L103.00,397.60Z" fill="#1aa8c8"/>
<path d="M121.80,400.70 L124.80,395.30 L118.80,395.30Z" fill="#1aa8c8"/>
<path d="M140.10,398.97 L143.10,393.57 L137.10,393.57Z" fill="#1aa8c8"/>
<path d="M158.70,398.97 L161.70,393.57 L155.70,393.57Z" fill="#1aa8c8"/>
<path d="M178.50,398.97 L181.50,393.57 L175.50,393.57Z" fill="#1aa8c8"/>
<line x1="198.00" y1="394.27" x2="198.00" y2="397.27" stroke="#1aa8c8" stroke-width="1.1" stroke-dasharray="4,2,1,2"/>
<path d="M198.00,398.97 L201.00,393.57 L195.00,393.57Z" fill="#1aa8c8"/>
<line x1="227.40" y1="395.50" x2="227.40" y2="399.50" stroke="#1aa8c8" stroke-width="1.1" stroke-dasharray="4,2,1,2"/>
<path d="M227.40,400.70 L230.40,395.30 L224.40,395.30Z" fill="#1aa8c8"/>
<line x1="266.60" y1="389.24" x2="266.60" y2="397.24" stroke="#1aa8c8" stroke-width="1.1" stroke-dasharray="4,2,1,2"/>
<path d="M266.60,396.44 L269.60,391.04 L263.60,391.04Z" fill="#1aa8c8"/>
<line x1="306.00" y1="394.52" x2="306.00" y2="408.52" stroke="#1aa8c8" stroke-width="1.1" stroke-dasharray="4,2,1,2"/>
<path d="M306.00,404.72 L309.00,399.32 L303.00,399.32Z" fill="#1aa8c8"/>
<line x1="345.40" y1="393.06" x2="345.40" y2="409.06" stroke="#1aa8c8" stroke-width="1.1" stroke-dasharray="4,2,1,2"/>
<path d="M345.40,404.26 L348.40,398.86 L342.40,398.86Z" fill="#1aa8c8"/>
</g>
<path d="M51.90,17.50L51.90,25.50M51.90,317.30L51.90,309.30M51.90,317.30L51.90,322.80M51.90,477.70L51.90,473.30M71.47,17.50L71.47,21.50M71.47,317.30L71.47,313.30M71.47,317.30L71.47,320.00M71.47,477.70L71.47,475.40M91.05,17.50L91.05,21.50M91.05,317.30L91.05,313.30M91.05,317.30L91.05,320.00M91.05,477.70L91.05,475.40M110.62,17.50L110.62,21.50M110.62,317.30L110.62,313.30M110.62,317.30L110.62,320.00M110.62,477.70L110.62,475.40M130.20,17.50L130.20,25.50M130.20,317.30L130.20,309.30M130.20,317.30L130.20,322.80M130.20,477.70L130.20,473.30M149.78,17.50L149.78,21.50M149.78,317.30L149.78,313.30M149.78,317.30L149.78,320.00M149.78,477.70L149.78,475.40M169.35,17.50L169.35,21.50M169.35,317.30L169.35,313.30M169.35,317.30L169.35,320.00M169.35,477.70L169.35,475.40M188.93,17.50L188.93,21.50M188.93,317.30L188.93,313.30M188.93,317.30L188.93,320.00M188.93,477.70L188.93,475.40M208.50,17.50L208.50,25.50M208.50,317.30L208.50,309.30M208.50,317.30L208.50,322.80M208.50,477.70L208.50,473.30M228.08,17.50L228.08,21.50M228.08,317.30L228.08,313.30M228.08,317.30L228.08,320.00M228.08,477.70L228.08,475.40M247.65,17.50L247.65,21.50M247.65,317.30L247.65,313.30M247.65,317.30L247.65,320.00M247.65,477.70L247.65,475.40M267.23,17.50L267.23,21.50M267.23,317.30L267.23,313.30M267.23,317.30L267.23,320.00M267.23,477.70L267.23,475.40M286.80,17.50L286.80,25.50M286.80,317.30L286.80,309.30M286.80,317.30L286.80,322.80M286.80,477.70L286.80,473.30M306.38,17.50L306.38,21.50M306.38,317.30L306.38,313.30M306.38,317.30L306.38,320.00M306.38,477.70L306.38,475.40M325.95,17.50L325.95,21.50M325.95,317.30L325.95,313.30M325.95,317.30L325.95,320.00M325.95,477.70L325.95,475.40M345.52,17.50L345.52,21.50M345.52,317.30L345.52,313.30M345.52,317.30L345.52,320.00M345.52,477.70L345.52,475.40M365.10,17.50L365.10,25.50M365.10,317.30L365.10,309.30M365.10,317.30L365.10,322.80M365.10,477.70L365.10,473.30M45.50,307.55L51.00,307.55M371.30,307.55L365.80,307.55M45.50,298.46L51.00,298.46M371.30,298.46L365.80,298.46M45.50,292.01L51.00,292.01M371.30,292.01L365.80,292.01M45.50,287.00L51.00,287.00M371.30,287.00L365.80,287.00M45.50,282.91L51.00,282.91M371.30,282.91L365.80,282.91M45.50,279.46L51.00,279.46M371.30,279.46L365.80,279.46M45.50,276.46L51.00,276.46M371.30,276.46L365.80,276.46M45.50,273.82L51.00,273.82M371.30,273.82L365.80,273.82M45.50,271.46L56.50,271.46M371.30,271.46L360.30,271.46M45.50,255.92L51.00,255.92M371.30,255.92L365.80,255.92M45.50,246.83L51.00,246.83M371.30,246.83L365.80,246.83M45.50,240.38L51.00,240.38M371.30,240.38L365.80,240.38M45.50,235.37L51.00,235.37M371.30,235.37L365.80,235.37M45.50,231.28L51.00,231.28M371.30,231.28L365.80,231.28M45.50,227.83L51.00,227.83M371.30,227.83L365.80,227.83M45.50,224.83L51.00,224.83M371.30,224.83L365.80,224.83M45.50,222.19L51.00,222.19M371.30,222.19L365.80,222.19M45.50,219.83L56.50,219.83M371.30,219.83L360.30,219.83M45.50,204.29L51.00,204.29M371.30,204.29L365.80,204.29M45.50,195.20L51.00,195.20M371.30,195.20L365.80,195.20M45.50,188.75L51.00,188.75M371.30,188.75L365.80,188.75M45.50,183.74L51.00,183.74M371.30,183.74L365.80,183.74M45.50,179.65L51.00,179.65M371.30,179.65L365.80,179.65M45.50,176.20L51.00,176.20M371.30,176.20L365.80,176.20M45.50,173.20L51.00,173.20M371.30,173.20L365.80,173.20M45.50,170.56L51.00,170.56M371.30,170.56L365.80,170.56M45.50,168.20L56.50,168.20M371.30,168.20L360.30,168.20M45.50,152.66L51.00,152.66M371.30,152.66L365.80,152.66M45.50,143.57L51.00,143.57M371.30,143.57L365.80,143.57M45.50,137.12L51.00,137.12M371.30,137.12L365.80,137.12M45.50,132.11L51.00,132.11M371.30,132.11L365.80,132.11M45.50,128.02L51.00,128.02M371.30,128.02L365.80,128.02M45.50,124.57L51.00,124.57M371.30,124.57L365.80,124.57M45.50,121.57L51.00,121.57M371.30,121.57L365.80,121.57M45.50,118.93L51.00,118.93M371.30,118.93L365.80,118.93M45.50,116.57L56.50,116.57M371.30,116.57L360.30,116.57M45.50,101.03L51.00,101.03M371.30,101.03L365.80,101.03M45.50,91.94L51.00,91.94M371.30,91.94L365.80,91.94M45.50,85.49L51.00,85.49M371.30,85.49L365.80,85.49M45.50,80.48L51.00,80.48M371.30,80.48L365.80,80.48M45.50,76.39L51.00,76.39M371.30,76.39L365.80,76.39M45.50,72.94L51.00,72.94M371.30,72.94L365.80,72.94M45.50,69.94L51.00,69.94M371.30,69.94L365.80,69.94M45.50,67.30L51.00,67.30M371.30,67.30L365.80,67.30M45.50,64.94L56.50,64.94M371.30,64.94L360.30,64.94M45.50,49.40L51.00,49.40M371.30,49.40L365.80,49.40M45.50,40.31L51.00,40.31M371.30,40.31L365.80,40.31M45.50,33.86L51.00,33.86M371.30,33.86L365.80,33.86M45.50,28.85L51.00,28.85M371.30,28.85L365.80,28.85M45.50,24.76L51.00,24.76M371.30,24.76L365.80,24.76M45.50,21.31L51.00,21.31M371.30,21.31L365.80,21.31M45.50,18.31L51.00,18.31M371.30,18.31L365.80,18.31M45.50,477.48L50.70,477.48M371.30,477.48L366.10,477.48M45.50,458.00L52.50,458.00M371.30,458.00L364.30,458.00M45.50,442.09L50.70,442.09M371.30,442.09L366.10,442.09M45.50,428.63L50.70,428.63M371.30,428.63L366.10,428.63M45.50,416.98L50.70,416.98M371.30,416.98L366.10,416.98M45.50,406.70L50.70,406.70M371.30,406.70L366.10,406.70M45.50,397.50L52.50,397.50M371.30,397.50L364.30,397.50M45.50,389.18L50.70,389.18M371.30,389.18L366.10,389.18M45.50,381.59L50.70,381.59M371.30,381.59L366.10,381.59M45.50,374.60L50.70,374.60M371.30,374.60L366.10,374.60M45.50,368.13L50.70,368.13M371.30,368.13L366.10,368.13M45.50,362.11L50.70,362.11M371.30,362.11L366.10,362.11M45.50,356.48L50.70,356.48M371.30,356.48L366.10,356.48M45.50,351.18L50.70,351.18M371.30,351.18L366.10,351.18M45.50,346.20L50.70,346.20M371.30,346.20L366.10,346.20M45.50,341.48L50.70,341.48M371.30,341.48L366.10,341.48M45.50,337.00L52.50,337.00M371.30,337.00L364.30,337.00M45.50,332.74L50.70,332.74M371.30,332.74L366.10,332.74M45.50,328.68L50.70,328.68M371.30,328.68L366.10,328.68M45.50,324.80L50.70,324.80M371.30,324.80L366.10,324.80M45.50,321.09L50.70,321.09M371.30,321.09L366.10,321.09M45.50,317.52L50.70,317.52M371.30,317.52L366.10,317.52" stroke="#000" stroke-width="0.9" fill="none"/>
<rect x="45.5" y="17.5" width="325.8" height="460.2" fill="none" stroke="#000" stroke-width="1.1"/>
<line x1="45.5" y1="317.3" x2="371.3" y2="317.3" stroke="#000" stroke-width="1.1"/>
<text x="39.30" y="69.94" font-size="10.8" text-anchor="end" fill="#000">10<tspan dy="-4.5" font-size="7.5">2</tspan></text>
<text x="39.60" y="120.87" font-size="10.8" text-anchor="end" fill="#000">10</text>
<text x="39.60" y="172.50" font-size="10.8" text-anchor="end" fill="#000">1</text>
<text x="41.60" y="226.03" font-size="10.8" text-anchor="end" fill="#000">10<tspan dy="-4.5" font-size="7.5">−1</tspan></text>
<text x="39.90" y="276.96" font-size="10.8" text-anchor="end" fill="#000">10<tspan dy="-4.5" font-size="7.5">−2</tspan></text>
<text x="38.60" y="341.00" font-size="10.8" text-anchor="end" fill="#000">2</text>
<text x="373.60" y="341.00" font-size="10.8" text-anchor="start" fill="#000">2</text>
<text x="38.60" y="401.50" font-size="10.8" text-anchor="end" fill="#000">1</text>
<text x="373.60" y="401.50" font-size="10.8" text-anchor="start" fill="#000">1</text>
<text x="38.60" y="462.00" font-size="10.8" text-anchor="end" fill="#000">0.5</text>
<text x="373.60" y="462.00" font-size="10.8" text-anchor="start" fill="#000">0.5</text>
<text x="51.90" y="489.20" font-size="10.8" text-anchor="middle" fill="#000">0</text>
<text x="130.20" y="489.20" font-size="10.8" text-anchor="middle" fill="#000">0.2</text>
<text x="208.50" y="489.20" font-size="10.8" text-anchor="middle" fill="#000">0.4</text>
<text x="286.80" y="489.20" font-size="10.8" text-anchor="middle" fill="#000">0.6</text>
<text x="365.10" y="489.20" font-size="10.8" text-anchor="middle" fill="#000">0.8</text>
<text x="371.20" y="505.20" font-size="12" text-anchor="end" fill="#000">S</text>
<text x="50.90" y="13.90" font-size="12" text-anchor="start" fill="#000">91.2 GeV ee</text>
<text x="367.00" y="14.20" font-size="12" text-anchor="end" fill="#000">γ*/Z (Hadronic)</text>
<text x="208.70" y="44.30" font-size="12" text-anchor="middle" fill="#000">Sphericity, S (charged)</text>
<text x="207.70" y="302.60" font-size="8.3" text-anchor="middle" fill="#999" textLength="85.5" lengthAdjust="spacingAndGlyphs">(ALEPH_1996_I428072)</text>
<text transform="translate(17.6,17.2) rotate(-90)" font-size="12" text-anchor="end">dN/dS</text>
<text transform="translate(17.6,78.0) rotate(-90)" font-size="12" text-anchor="start">1/N</text>
<text transform="translate(18.0,395.5) rotate(-90)" font-size="8.9" text-anchor="middle">Ratio to ALEPH</text>
<text transform="translate(380.0,21.0) rotate(-90)" font-size="9.3" text-anchor="end" fill="#6a6a6a" textLength="106" lengthAdjust="spacingAndGlyphs">Rivet 4.1.0, ≥ 100k events</text>
<text transform="translate(380.0,166.0) rotate(-90)" font-size="9.3" text-anchor="end" fill="#6a6a6a" textLength="147.5" lengthAdjust="spacingAndGlyphs">mcplots.cern.ch [arXiv:2401.10621]</text>
<rect x="74.40" y="195.90" width="4.2" height="4.2" fill="#000"/>
<text x="94.00" y="201.20" font-size="9.3" text-anchor="start" fill="#000">ALEPH</text>
<line x1="64.0" y1="211.10" x2="88.5" y2="211.10" stroke="#a8580f" stroke-width="1" stroke-dasharray="2.5,1.6"/>
<circle cx="76.50" cy="211.10" r="2.6" fill="none" stroke="#a8580f" stroke-width="1.2"/>
<text x="94.00" y="214.30" font-size="9.3" text-anchor="start" fill="#000">Herwig++ 2.7.1 default</text>
<line x1="64.0" y1="224.20" x2="88.5" y2="224.20" stroke="#339a2a" stroke-width="1" stroke-dasharray="2.5,1.6"/>
<rect x="73.90" y="221.60" width="5.2" height="5.2" fill="none" stroke="#339a2a" stroke-width="1.15"/>
<text x="94.00" y="227.40" font-size="9.3" text-anchor="start" fill="#000">Herwig 7.2.1 default</text>
<line x1="64.0" y1="237.30" x2="88.5" y2="237.30" stroke="#0000ee" stroke-width="1"/>
<path d="M76.50,234.10 L79.50,239.50 L73.50,239.50Z" fill="#0000ee"/>
<text x="94.00" y="240.50" font-size="9.3" text-anchor="start" fill="#000">Pythia 8.315 default</text>
<line x1="64.0" y1="250.40" x2="88.5" y2="250.40" stroke="#1a9fc0" stroke-width="1" stroke-dasharray="4,2,1,2"/>
<path d="M76.50,253.60 L79.50,248.20 L73.50,248.20Z" fill="#1a9fc0"/>
<text x="94.00" y="253.60" font-size="9.3" text-anchor="start" fill="#000">Pythia 8.315 vincia-default</text>
<line x1="64.0" y1="263.50" x2="88.5" y2="263.50" stroke="#ff0000" stroke-width="1" stroke-dasharray="1,1"/>
<path d="M76.50,260.50 L78.40,263.50 L76.50,266.50 L74.60,263.50Z" fill="#ff0000"/>
<text x="94.00" y="266.70" font-size="9.3" text-anchor="start" fill="#000">Sherpa 2.2.9 default</text>
<line x1="64.0" y1="276.60" x2="88.5" y2="276.60" stroke="#1aa8c8" stroke-width="1" stroke-dasharray="4,2,1,2"/>
<path d="M76.50,279.80 L79.50,274.40 L73.50,274.40Z" fill="#1aa8c8"/>
<text x="94.00" y="279.80" font-size="9.3" text-anchor="start" fill="#000">Vincia 1.1.03_8.185 default</text>
</svg></body></html>
